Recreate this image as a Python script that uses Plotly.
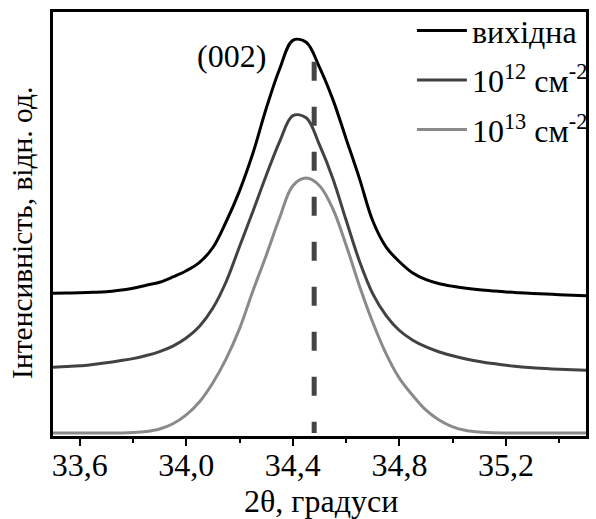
import plotly.graph_objects as go

# 2θ grid (degrees), 0.05° step
two_theta = [33.5, 33.55, 33.6, 33.65, 33.7, 33.75, 33.8, 33.85, 33.9, 33.95, 34.0,
             34.05, 34.1, 34.15, 34.2, 34.25, 34.3, 34.35, 34.4, 34.45, 34.5,
             34.55, 34.6, 34.65, 34.7, 34.75, 34.8, 34.85, 34.9, 34.95, 35.0,
             35.05, 35.1, 35.15, 35.2, 35.25, 35.3, 35.35, 35.4, 35.45, 35.5]

# intensities (arb. units, curves shifted vertically)
initial = [33.09, 33.15, 33.21, 33.33, 33.49, 33.85, 34.32, 35.02, 35.73, 36.98, 38.44,
           40.45, 43.96, 50.12, 57.38, 66.27, 76.89, 86.20, 93.04, 92.59, 86.65,
           79.06, 69.69, 60.28, 50.24, 44.06, 40.57, 37.90, 36.32, 35.35, 34.75,
           34.30, 33.95, 33.67, 33.42, 33.23, 33.07, 32.92, 32.78, 32.66, 32.55]
dose_1e12 = [15.57, 15.74, 15.92, 16.25, 16.63, 17.10, 17.62, 18.35, 19.30, 20.60, 22.50,
             25.30, 29.60, 35.90, 44.20, 52.50, 61.00, 69.00, 75.20, 74.70, 68.25,
             60.33, 50.40, 40.71, 32.97, 27.83, 24.29, 22.00, 20.40, 19.20, 18.30,
             17.55, 16.95, 16.45, 16.05, 15.70, 15.45, 15.26, 15.09, 14.97, 14.86]
dose_1e13 = [0.0, 0.0, 0.0, 0.0, 0.0, 0.02, 0.10, 0.35, 0.95, 2.20, 4.30,
             7.40, 11.90, 17.62, 24.74, 33.66, 42.08, 50.94, 58.60, 60.40, 58.60,
             53.14, 44.50, 34.83, 26.18, 18.75, 12.95, 8.89, 5.40, 3.00, 1.45,
             0.60, 0.22, 0.07, 0.02, 0.0, 0.0, 0.0, 0.0, 0.0, 0.0]

series_names = ["вихідна", "10<sup>12</sup> см<sup>-2</sup>", "10<sup>13</sup> см<sup>-2</sup>"]
series_colors = ["#000000", "#424242", "#8a8a8a"]

ref_line_x = 34.48
ref_line_y = [88, 0]
peak_label = "(002)"
peak_label_pos = (34.17, 89.4)

x_ticks = [33.6, 34.0, 34.4, 34.8, 35.2]
x_title = "2θ, градуси"
y_title = "Інтенсивність, відн. од."

FONT = "Liberation Serif"

fig = go.Figure()
for i, (name, ys, col) in enumerate(zip(series_names, [initial, dose_1e12, dose_1e13], series_colors)):
    fig.add_trace(go.Scatter(x=two_theta, y=ys, mode="lines", name=name,
                             legendgroup=f"g{i}",
                             line=dict(color=col, width=3, shape="spline", smoothing=1.0)))

fig.add_trace(go.Scatter(x=[ref_line_x, ref_line_x], y=ref_line_y, mode="lines",
                         showlegend=False, hoverinfo="skip",
                         line=dict(color="#454545", width=5, dash="19px,26px")))

fig.add_annotation(x=peak_label_pos[0], y=peak_label_pos[1], text=peak_label,
                   showarrow=False, font=dict(size=32, color="black", family=FONT))

# axis titles
fig.add_annotation(xref="paper", yref="paper", x=0.5019, y=-0.1526, text=x_title,
                   showarrow=False, xanchor="center", yanchor="middle",
                   font=dict(size=32, color="black", family=FONT))
fig.add_annotation(xref="paper", yref="paper", x=-0.057, y=0.478, text=y_title,
                   showarrow=False, xanchor="center", yanchor="middle", textangle=-90,
                   font=dict(size=29.5, color="black", family=FONT))

fig.update_layout(
    width=596, height=519,
    margin=dict(l=53, r=3, t=10, b=83),
    paper_bgcolor="white", plot_bgcolor="white",
    font=dict(family=FONT, size=32, color="black"),
    separators=", ",
    legend=dict(x=1.013, y=1.021, xanchor="right", yanchor="top", bgcolor="rgba(0,0,0,0)",
                font=dict(size=32, family=FONT), itemwidth=50,
                traceorder="grouped", tracegroupgap=5),
    showlegend=True,
)
fig.update_xaxes(
    range=[33.5, 35.5], tickvals=x_ticks, tickformat=".1f",
    ticks="outside", ticklen=7, tickwidth=2, tickcolor="black",
    ticklabelstandoff=-8,
    minor=dict(dtick=0.2, tick0=33.6, ticks="outside", ticklen=4, tickwidth=2, tickcolor="black"),
    showline=True, linewidth=2.5, linecolor="black", mirror=True,
    showgrid=False, zeroline=False,
    tickfont=dict(size=32, family=FONT),
)
fig.update_yaxes(
    range=[-0.71, 99.76], showticklabels=False, ticks="",
    showline=True, linewidth=2.5, linecolor="black", mirror=True,
    showgrid=False, zeroline=False,
)

fig.write_html("out.html", config={"displayModeBar": False},
               post_script="document.body.style.margin='0';")
